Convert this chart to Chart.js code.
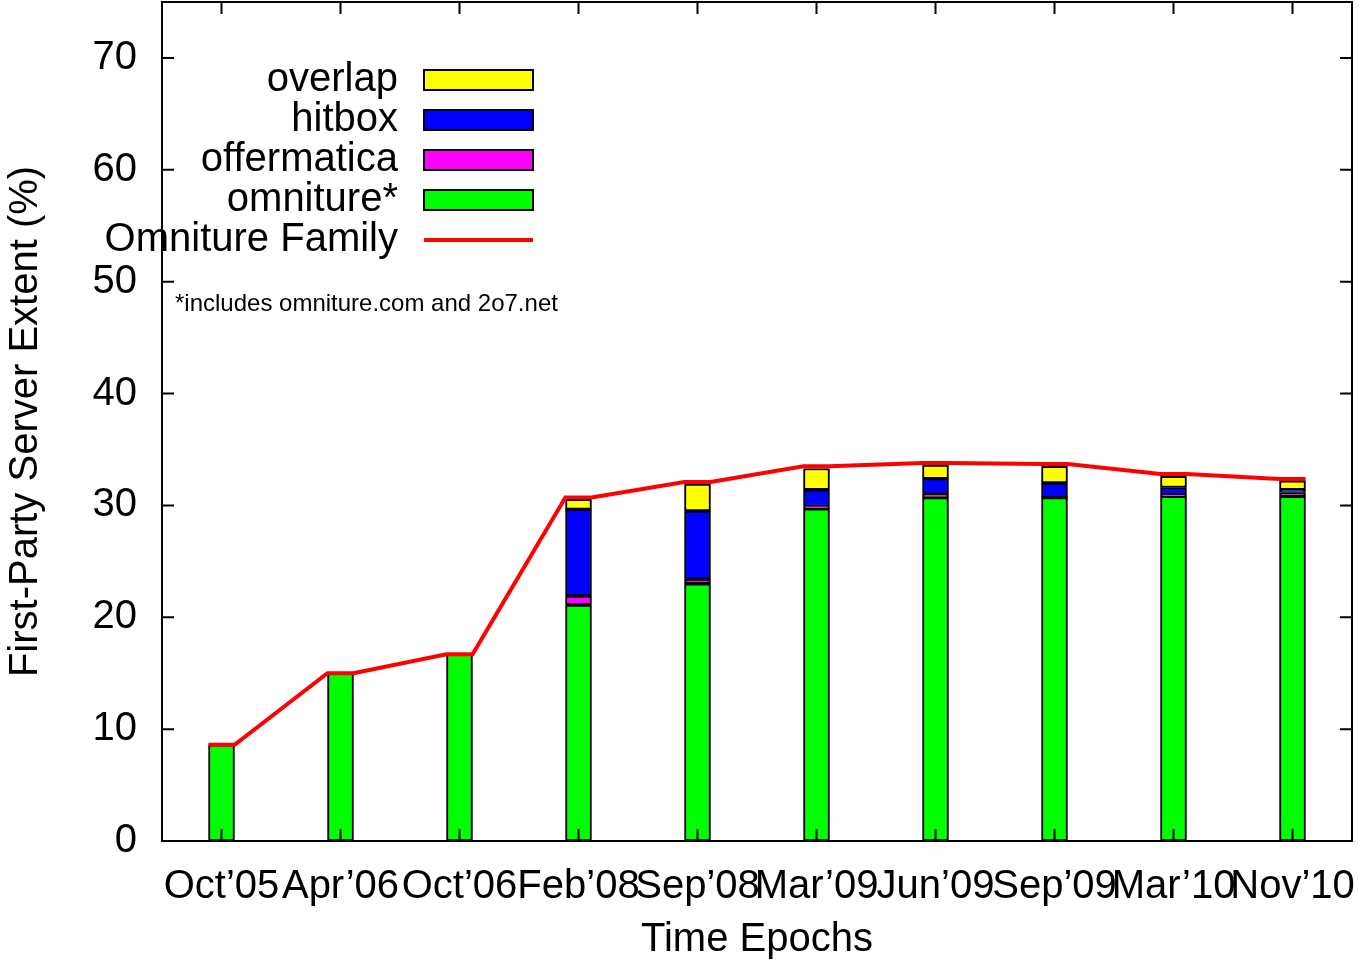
<!DOCTYPE html>
<html>
<head>
<meta charset="utf-8">
<title>First-Party Server Extent</title>
<script src="https://cdn.jsdelivr.net/npm/chart.js@4.4.0/dist/chart.umd.min.js"></script>
<style>
    html, body { margin: 0; padding: 0; background: #fff; }
    #wrap { width: 1359px; height: 964px; }
</style>
</head>
<body>
<div id="wrap"><canvas id="chart" width="1359" height="964"></canvas></div>
<script>
// Epochs on the x axis
const epochs = ["Oct\u201905", "Apr\u201906", "Oct\u201906", "Feb\u201908", "Sep\u201908", "Mar\u201909", "Jun\u201909", "Sep\u201909", "Mar\u201910", "Nov\u201910"];

// Stacked pieces (%), bottom to top
const omniture    = [8.6, 15.0, 16.7, 21.1, 23.0, 29.7, 30.7, 30.7, 30.8, 30.8];
const offermatica = [0, 0, 0, 0.8, 0.4, 0.2, 0.3, 0, 0.15, 0.35];
const hitbox      = [0, 0, 0, 7.75, 6.1, 1.5, 1.4, 1.3, 0.65, 0.25];
const overlap     = [0, 0, 0, 0.9, 2.4, 1.9, 1.2, 1.5, 1.0, 0.8];

// Total for the whole family (red line)
const family = [8.6, 15.0, 16.7, 30.7, 32.1, 33.5, 33.8, 33.7, 32.8, 32.35];

const yTicks = [0, 10, 20, 30, 40, 50, 60, 70];

const FONT = 'Liberation Sans, Arial, Helvetica, sans-serif';
const HALF = 0.11; // half bar width in x units, used for the flat line tops

// bar points, skipping empty pieces
const toBars = arr => arr.map((v, i) => ({ x: i, y: v })).filter(p => p.y > 0);

// line runs flat over each bar then slopes to the next one
const linePts = [];
family.forEach((v, i) => {
    linePts.push({ x: i - HALF, y: v });
    linePts.push({ x: i + HALF, y: v });
});

const barStyle = (label, color, values) => ({
    type: 'bar',
    label: label,
    data: toBars(values),
    backgroundColor: color,
    borderColor: '#000',
    borderWidth: 2,
    borderSkipped: false,
    barThickness: 26,
    stack: 'parts',
    order: 1
});

// no extra room around the axes, the plot box is fixed
const noPad = s => {
    s.paddingTop = 0;
    s.paddingBottom = 0;
    s.paddingLeft = 0;
    s.paddingRight = 0;
};

// frame, inward ticks, legend and footnote
const decorations = {
    id: 'decorations',
    afterDraw(chart) {
        const c = chart.ctx;
        const a = chart.chartArea;
        const xs = chart.scales.x, ys = chart.scales.y;
        c.save();
        c.strokeStyle = '#000';
        c.lineWidth = 2;
        c.strokeRect(a.left, a.top, a.right - a.left, a.bottom - a.top);

        c.beginPath();
        yTicks.forEach(v => {
            const py = ys.getPixelForValue(v);
            c.moveTo(a.left, py); c.lineTo(a.left + 12, py);
            c.moveTo(a.right, py); c.lineTo(a.right - 12, py);
        });
        epochs.forEach((e, i) => {
            const px = xs.getPixelForValue(i);
            c.moveTo(px, a.top); c.lineTo(px, a.top + 12);
            c.moveTo(px, a.bottom); c.lineTo(px, a.bottom - 12);
        });
        c.stroke();

        // legend
        const ds = chart.data.datasets;
        const order = [3, 2, 1, 0, 4];
        c.font = '40px ' + FONT;
        c.textAlign = 'right';
        c.textBaseline = 'middle';
        order.forEach((di, row) => {
            const d = ds[di];
            const cy = 80 + row * 40;
            c.fillStyle = '#000';
            c.fillText(d.label, 398, cy);
            if (d.type === 'line') {
                c.strokeStyle = d.borderColor;
                c.lineWidth = 4;
                c.beginPath();
                c.moveTo(424, cy); c.lineTo(533, cy);
                c.stroke();
            } else {
                c.fillStyle = d.backgroundColor;
                c.fillRect(424, cy - 10, 109, 20);
                c.strokeStyle = '#000';
                c.lineWidth = 2;
                c.strokeRect(424, cy - 10, 109, 20);
            }
        });

        c.font = '24px ' + FONT;
        c.textAlign = 'left';
        c.fillStyle = '#000';
        c.fillText('*includes omniture.com and 2o7.net', 175, 304);
        c.restore();
    }
};

window.addEventListener('DOMContentLoaded', () => {
    const ctx = document.getElementById('chart').getContext('2d');

    new Chart(ctx, {
        type: 'bar',
        data: {
            datasets: [
                barStyle('omniture*', '#00ff00', omniture),
                barStyle('offermatica', '#ff00ff', offermatica),
                barStyle('hitbox', '#0000ff', hitbox),
                barStyle('overlap', '#ffff00', overlap),
                {
                    type: 'line',
                    label: 'Omniture Family',
                    data: linePts,
                    borderColor: '#ff0000',
                    borderWidth: 4,
                    pointRadius: 0,
                    tension: 0,
                    fill: false,
                    stack: 'family',
                    order: 0
                }
            ]
        },
        options: {
            responsive: false,
            maintainAspectRatio: false,
            animation: false,
            layout: { autoPadding: false, padding: { top: 2, right: 7, left: 0, bottom: 0 } },
            plugins: {
                legend: { display: false },
                tooltip: { enabled: false }
            },
            scales: {
                x: {
                    type: 'linear',
                    min: -0.5,
                    max: 9.5,
                    offset: false,
                    grid: { display: false },
                    border: { display: false },
                    afterBuildTicks: s => { s.ticks = epochs.map((e, i) => ({ value: i })); },
                    afterFit: s => { s.height = 123; noPad(s); },
                    ticks: {
                        autoSkip: false,
                        maxRotation: 0,
                        padding: 14,
                        color: '#000',
                        font: { family: FONT, size: 40 },
                        callback: v => epochs[v] ?? ''
                    },
                    title: {
                        display: true,
                        text: 'Time Epochs',
                        color: '#000',
                        font: { family: FONT, size: 40 },
                        padding: { top: 0, bottom: 0 }
                    }
                },
                y: {
                    stacked: true,
                    min: 0,
                    max: 75,
                    grid: { display: false },
                    border: { display: false },
                    afterBuildTicks: s => { s.ticks = yTicks.map(v => ({ value: v })); },
                    afterFit: s => { s.width = 162; noPad(s); },
                    ticks: {
                        padding: 17,
                        color: '#000',
                        font: { family: FONT, size: 40 }
                    },
                    title: {
                        display: true,
                        text: 'First-Party Server Extent (%)',
                        color: '#000',
                        font: { family: FONT, size: 40 },
                        padding: { top: 2, bottom: 0 }
                    }
                }
            }
        },
        plugins: [decorations]
    });
});
</script>
</body>
</html>
